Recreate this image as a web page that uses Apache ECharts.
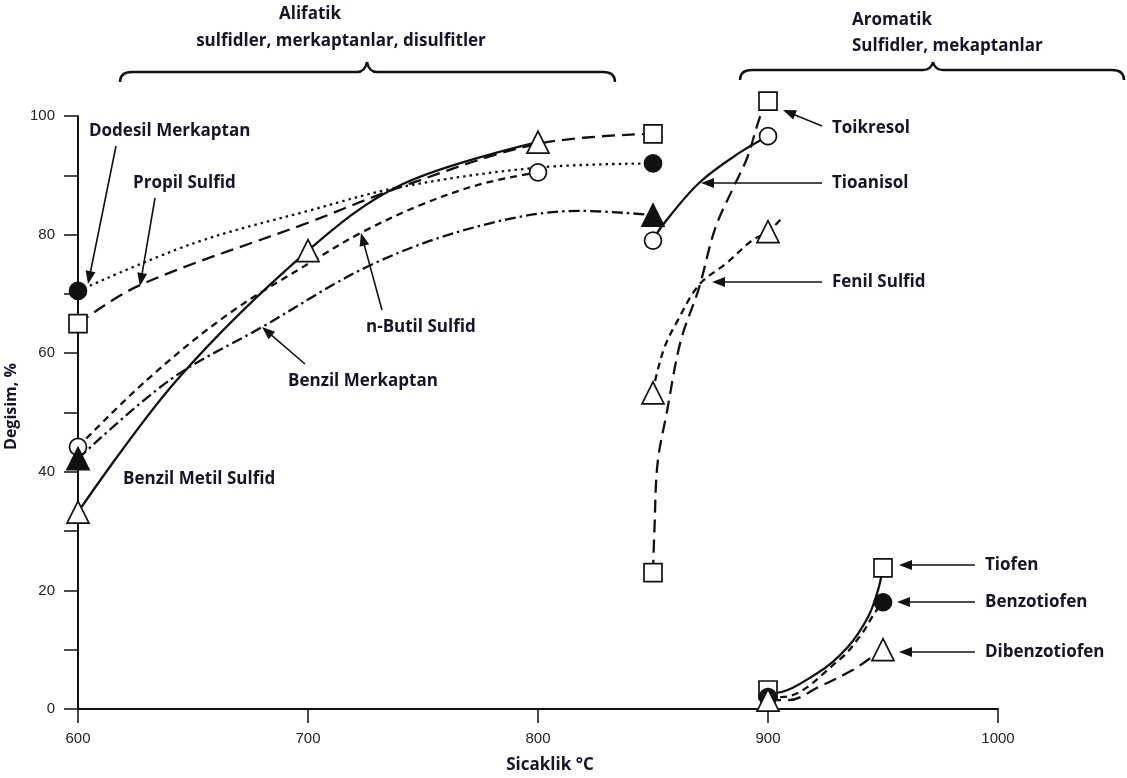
<!DOCTYPE html>
<html><head><meta charset="utf-8">
<script src="https://cdn.jsdelivr.net/npm/echarts@6/dist/echarts.min.js"></script>
<style>html,body{margin:0;padding:0;background:#fff}#c{width:1127px;height:778px}</style>
</head><body><div id="c"></div>
<script>
// ---- Data (x = Sicaklik °C, y = Degisim %) ----
// Aliphatic group
const dodesilCurve  = [[600,70.5],[650,78.5],[700,84],[740,88],[800,91.3],[850,92]];
const dodesilPts    = [[600,70.5],[850,92]];
const propilCurve   = [[600,65],[627,71.5],[700,82],[740,88],[800,95.3],[850,97]];
const propilPts     = [[600,65],[850,97]];
const benzilMetilCurve = [[600,33.2],[643,55.5],[700,77.3],[741,88.5],[800,95.6]];
const benzilMetilPts   = [[600,33.2],[700,77.3],[800,95.6]];
const butilCurve    = [[600,44.2],[630,55.5],[665,66.5],[704,76],[723,80.3],[749,85],[775,88.5],[800,90.5]];
const butilPts      = [[600,44.2],[800,90.5]];
const benzilMerkCurve = [[600,42.2],[640,55.5],[680,64.4],[728,75],[775,81.5],[818,84],[850,83.3]];
const benzilMerkPts   = [[600,42.2],[850,83.3]];
// Aromatic group
const tioanisolCurve = [[850,79],[854,81.5],[870,88.7],[888,93.9],[900,96.6]];
const tioanisolPts   = [[850,79],[900,96.6]];
const toikresolCurve = [[850,23],[850.6,30],[852,41.5],[856,50],[862,62],[870,71],[877,81],[885,88],[891,93],[896.5,99.8],[900,102.5]];
const toikresolPts   = [[850,23],[900,102.5]];
const fenilCurve     = [[850,53.3],[851,55.5],[855,61],[860,65],[870,71.5],[882,75.2],[893,79],[900,80.5],[906.5,83]];
const fenilPts       = [[850,53.3],[900,80.5]];
const tiofenCurve    = [[900,3.2],[902,2.7],[921.7,6.1],[934.8,10.5],[943.5,15.5],[947.8,20],[950,23.8]];
const tiofenPts      = [[900,3.2],[950,23.8]];
const benzotiofenCurve = [[900,2],[906,2],[931,8.3],[941,12.8],[946,16],[950,18]];
const benzotiofenPts   = [[900,2],[950,18]];
const dibenzoCurve   = [[900,1.5],[909,1.5],[922,3.7],[937,6.6],[943.5,8.3],[950,10]];
const dibenzoPts     = [[900,1.5],[950,10]];

const xTicks = [600,700,800,900,1000];
const yLabelTicks = [0,20,40,60,80,100];

const groupTitles = {
  left: ['Alifatik', 'sulfidler, merkaptanlar, disulfitler'],
  right: ['Aromatik', 'Sulfidler, mekaptanlar']
};

// ---- Styles ----
const INK = '#111';
const LBL = '#15152a';
const LFONT = '"Open Sans", Lato, sans-serif';
const dash = {
  dotted: [2.5, 4],
  long: [13, 7],
  short: [7, 5],
  dashdot: [11, 4, 2.5, 4],
  solid: 'solid'
};

function curve(data, type, z) {
  return {
    type: 'line', data: data, smooth: 0.35, showSymbol: false, symbol: 'none',
    clip: false, silent: true, z: z || 2,
    lineStyle: { color: INK, width: 2.3, type: type }
  };
}
function marks(data, symbol, filled, size) {
  return {
    type: 'scatter', data: data, symbol: symbol, symbolSize: size,
    clip: false, silent: true, z: 5,
    itemStyle: { color: filled ? INK : '#fff', borderColor: INK, borderWidth: 1.7, opacity: 1 }
  };
}

const chart = echarts.init(document.getElementById('c'), null, { renderer: 'canvas' });

const option = {
  animation: false,
  backgroundColor: '#fff',
  grid: { left: 78, right: 129, top: 116, bottom: 69, containLabel: false, outerBoundsMode: 'none' },
  xAxis: {
    type: 'value', min: 600, max: 1000, interval: 100,
    name: 'Sicaklik °C', nameLocation: 'middle', nameGap: 48,
    nameTextStyle: { fontFamily: LFONT, fontWeight: 'bold', fontSize: 17, color: LBL, padding: [0,0,0,24] },
    axisLine: { show: true, lineStyle: { color: INK, width: 2 } },
    axisTick: { show: true, length: 14, inside: false, lineStyle: { color: INK, width: 1.5 } },
    axisLabel: { fontFamily: '"Liberation Sans", Arial, sans-serif', fontSize: 15, color: '#222', margin: 22,
      formatter: v => xTicks.includes(v) ? String(v) : '' },
    splitLine: { show: false }
  },
  yAxis: {
    type: 'value', min: 0, max: 100, interval: 10,
    name: 'Degisim, %', nameLocation: 'middle', nameGap: 46, nameRotate: 90,
    nameTextStyle: { fontFamily: LFONT, fontWeight: 'bold', fontSize: 16, color: LBL, padding: [0,0,0,12] },
    axisLine: { show: true, lineStyle: { color: INK, width: 2 } },
    axisTick: { show: true, length: 14, inside: false, lineStyle: { color: INK, width: 1.5 } },
    axisLabel: { fontFamily: '"Liberation Sans", Arial, sans-serif', fontSize: 15, color: '#222', margin: 23,
      formatter: v => yLabelTicks.includes(v) ? String(v) : '' },
    splitLine: { show: false }
  },
  series: [
    curve(dodesilCurve, dash.dotted),
    curve(propilCurve, dash.long),
    curve(benzilMetilCurve, dash.solid),
    curve(butilCurve, dash.short),
    curve(benzilMerkCurve, dash.dashdot),
    curve(tioanisolCurve, dash.solid),
    curve(toikresolCurve, dash.long),
    curve(fenilCurve, dash.short),
    curve(tiofenCurve, dash.solid),
    curve(benzotiofenCurve, dash.short),
    curve(dibenzoCurve, dash.long),
    marks(dodesilPts, 'circle', true, 17),
    marks(propilPts, 'rect', false, 18),
    marks(benzilMetilPts, 'triangle', false, 22),
    marks(butilPts, 'circle', false, 17),
    marks(benzilMerkPts, 'triangle', true, 22),
    marks(tioanisolPts, 'circle', false, 17),
    marks(toikresolPts, 'rect', false, 18),
    marks(fenilPts, 'triangle', false, 22),
    marks(tiofenPts, 'rect', false, 18),
    marks(benzotiofenPts, 'circle', true, 17),
    marks(dibenzoPts, 'triangle', false, 22)
  ]
};
chart.setOption(option);

// ---- Annotations ----
function txt(x, y, s, align, size) {
  return { type: 'text', x: x, y: y, silent: true, z: 10,
    style: { text: s, fill: LBL, font: 'bold ' + (size || 17) + 'px ' + LFONT, align: align || 'left', verticalAlign: 'middle' } };
}
function arrow(x1, y1, x2, y2) {
  const dx = x2 - x1, dy = y2 - y1, L = Math.hypot(dx, dy), ux = dx / L, uy = dy / L;
  const h = 13, w = 5;
  const bx = x2 - ux * h, by = y2 - uy * h;
  return { type: 'group', silent: true, z: 10, children: [
    { type: 'line', shape: { x1: x1, y1: y1, x2: bx + ux * 2, y2: by + uy * 2 }, style: { stroke: INK, lineWidth: 1.6 } },
    { type: 'polygon', shape: { points: [[x2, y2], [bx - uy * w, by + ux * w], [bx + uy * w, by - ux * w]] }, style: { fill: INK } }
  ] };
}
function brace(x1, xc, x2, yTop, yMid, yEnd) {
  const r = 12;
  const st = { stroke: INK, lineWidth: 2.4, fill: null };
  const q = (ax, ay, bx, by, cx, cy) => ({ type: 'bezierCurve', silent: true,
    shape: { x1: ax, y1: ay, cpx1: bx, cpy1: by, x2: cx, y2: cy }, style: st });
  const l = (ax, ay, bx, by) => ({ type: 'line', silent: true, shape: { x1: ax, y1: ay, x2: bx, y2: by }, style: st });
  return { type: 'group', silent: true, z: 10, children: [
    q(x1, yEnd, x1, yMid, x1 + r, yMid),
    l(x1 + r, yMid, xc - 10, yMid),
    q(xc - 10, yMid, xc - 2, yMid, xc, yTop),
    q(xc, yTop, xc + 2, yMid, xc + 10, yMid),
    l(xc + 10, yMid, x2 - r, yMid),
    q(x2 - r, yMid, x2, yMid, x2, yEnd)
  ] };
}

chart.setOption({ graphic: [
  brace(120, 367, 615, 62, 72, 82),
  brace(740, 933, 1124, 62, 70, 80),
  txt(310, 14, groupTitles.left[0], 'center'),
  txt(341, 41, groupTitles.left[1], 'center'),
  txt(852, 20, groupTitles.right[0]),
  txt(852, 46, groupTitles.right[1]),

  txt(89, 131, 'Dodesil Merkaptan'), arrow(116, 146, 88, 284),
  txt(133, 183, 'Propil Sulfid'), arrow(155, 198, 140, 286),
  txt(366, 327, 'n-Butil Sulfid'), arrow(382, 310, 361, 233),
  txt(288, 381, 'Benzil Merkaptan'), arrow(305, 364, 262, 327),
  txt(123, 479, 'Benzil Metil Sulfid'),

  txt(832, 128, 'Toikresol'), arrow(822, 126, 783, 110),
  txt(832, 183, 'Tioanisol'), arrow(822, 183, 701, 183),
  txt(832, 282, 'Fenil Sulfid'), arrow(822, 282, 712, 282),
  txt(985, 565, 'Tiofen'), arrow(975, 565, 899, 565),
  txt(985, 602, 'Benzotiofen'), arrow(975, 602, 897, 602),
  txt(985, 652, 'Dibenzotiofen'), arrow(975, 652, 899, 652)
] });
</script>
</body></html>
